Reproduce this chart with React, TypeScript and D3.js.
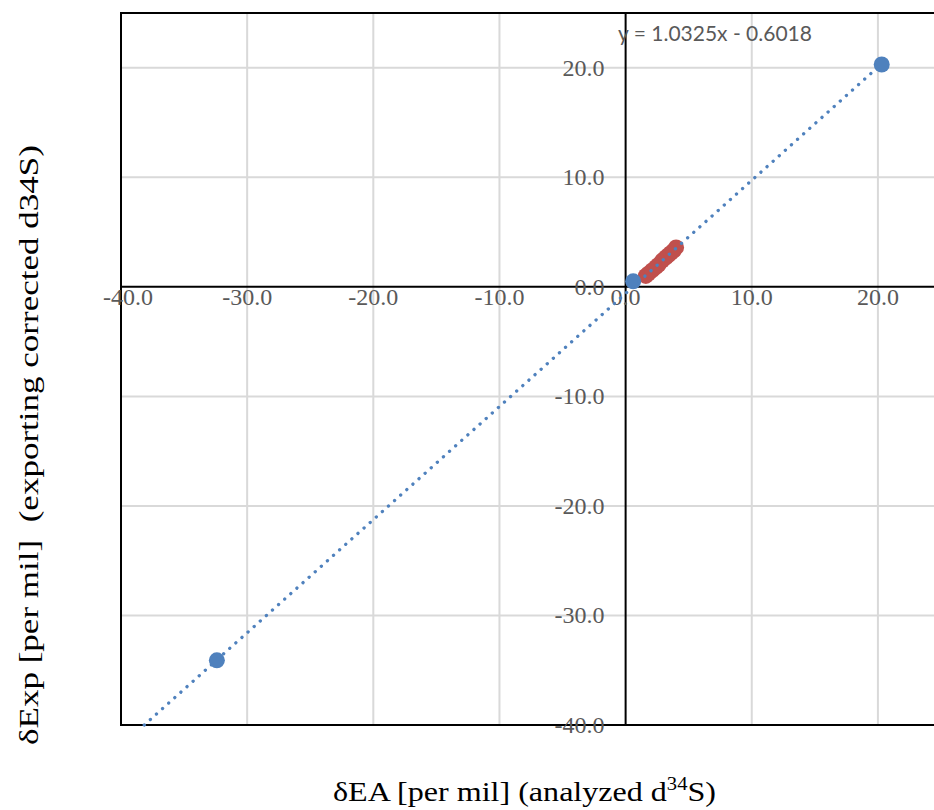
import * as d3 from "d3";

const WIDTH = 934;
const HEIGHT = 810;
// plot area (right edge runs past the picture)
const PLOT = { left: 121, top: 13, right: 941, bottom: 725 };

const X_TICKS = [-40, -30, -20, -10, 0, 10, 20];
const Y_TICKS = [20, 10, 0, -10, -20, -30, -40];

// blue series: standards
const blueX = [-32.4, 0.6, 20.3];
const blueY = [-34.1, 0.5, 20.3];

// red series: samples
const redX = [1.6, 1.8, 2.1, 2.4, 2.6, 2.9, 3.2, 3.4, 3.6, 3.8, 4.0];
const redY = [1.0, 1.2, 1.5, 1.8, 2.0, 2.4, 2.7, 2.9, 3.1, 3.3, 3.6];

const TREND_SLOPE = 1.0325;
const TREND_INTERCEPT = -0.6018;

const BLUE = "#4F81BD";
const RED = "#C0504D";
const GRID = "#D9D9D9";
const LABEL = "#595959";

export default function App() {
    const xScale = d3.scaleLinear().domain([-40, 25]).range([PLOT.left, PLOT.right]);
    const yScale = d3.scaleLinear().domain([-40, 25]).range([PLOT.bottom, PLOT.top]);

    const serif = "'Liberation Serif', 'Times New Roman', serif";

    // trendline, forecast backward down to the bottom of the plot
    const xStart = (-40 - TREND_INTERCEPT) / TREND_SLOPE;
    const xEnd = d3.max(blueX) as number;
    const trend = d3.line<number>()
        .x((d) => xScale(d))
        .y((d) => yScale(TREND_SLOPE * d + TREND_INTERCEPT))([xStart, xEnd]);

    const vGrid = X_TICKS.filter((v) => v !== 0 && v !== -40).map((v, i) => (
        <line key={i} x1={xScale(v)} x2={xScale(v)} y1={PLOT.top} y2={PLOT.bottom} stroke={GRID} strokeWidth={2} />
    ));
    const hGrid = Y_TICKS.filter((v) => v !== 0 && v !== -40).map((v, i) => (
        <line key={i} x1={PLOT.left} x2={PLOT.right} y1={yScale(v)} y2={yScale(v)} stroke={GRID} strokeWidth={2} />
    ));

    const xLabels = X_TICKS.map((v, i) => (
        <text key={i} x={xScale(v) + (v === -40 ? 7 : 0)} y={yScale(0) + 18} textAnchor="middle" fontSize={24}
            fill={LABEL} fontFamily={serif}>
            {v.toFixed(1)}
        </text>
    ));
    const yLabels = Y_TICKS.map((v, i) => (
        <text key={i} x={xScale(0) - 21} y={yScale(v) + 8} textAnchor="end" fontSize={24} fill={LABEL} fontFamily={serif}>
            {v.toFixed(1)}
        </text>
    ));

    return (
        <div style={{ position: "fixed", left: 0, top: 0, width: WIDTH, height: HEIGHT, overflow: "hidden", background: "#fff" }}>
            <svg width={WIDTH} height={HEIGHT}>
                <g>{vGrid}</g>
                <g>{hGrid}</g>
                {/* plot area border */}
                <rect x={PLOT.left} y={PLOT.top} width={PLOT.right - PLOT.left} height={PLOT.bottom - PLOT.top}
                    fill="none" stroke="#000" strokeWidth={2} />
                {/* axes crossing at zero */}
                <line x1={PLOT.left} x2={PLOT.right} y1={yScale(0)} y2={yScale(0)} stroke="#000" strokeWidth={2} />
                <line x1={xScale(0)} x2={xScale(0)} y1={PLOT.top} y2={PLOT.bottom} stroke="#000" strokeWidth={2} />
                <g>{xLabels}</g>
                <g>{yLabels}</g>
                <g>
                    {redX.map((x, i) => (
                        <circle key={i} cx={xScale(x)} cy={yScale(redY[i])} r={8} fill={RED} />
                    ))}
                </g>
                <g>
                    {blueX.map((x, i) => (
                        <circle key={i} cx={xScale(x)} cy={yScale(blueY[i])} r={8} fill={BLUE} />
                    ))}
                </g>
                <path d={trend || ""} fill="none" stroke={BLUE} strokeWidth={3.3}
                    strokeDasharray="0.1 8.1" strokeLinecap="round" />
                <text x={618} y={41} fontSize={21} fill={LABEL} fontFamily="Lato, 'Open Sans', sans-serif">
                    y = 1.0325x - 0.6018
                </text>
                <text x={333} y={801} fontSize={28} fill="#000" fontFamily={serif}
                    textLength={383} lengthAdjust="spacingAndGlyphs">
                    δEA [per mil] (analyzed d<tspan fontSize={18} dy={-11}>34</tspan><tspan dy={11}>S)</tspan>
                </text>
                <text transform={`translate(38, 745) rotate(-90)`} fontSize={27} fill="#000"
                    fontFamily={serif} style={{ whiteSpace: "pre" }} textLength={600} lengthAdjust="spacingAndGlyphs">
                    {"δExp [per mil]  (exporting corrected d34S)"}
                </text>
            </svg>
        </div>
    );
}
